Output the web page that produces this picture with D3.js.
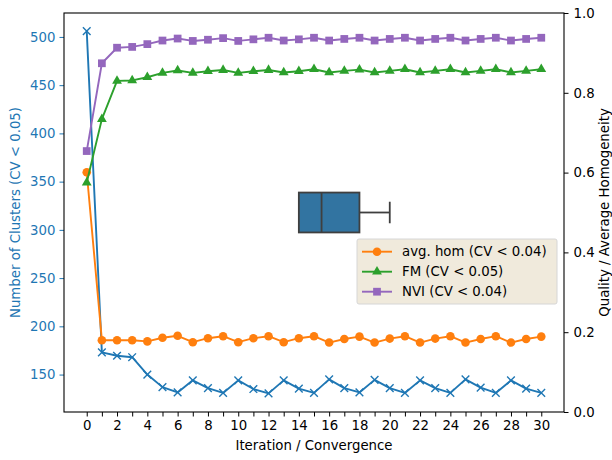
<!DOCTYPE html>
<html>
<head>
<meta charset="utf-8">
<script src="https://cdn.jsdelivr.net/npm/d3@7"></script>
<style>
  body { margin: 0; background: #fff; overflow: hidden; }
  svg { display: block; font-family: "DejaVu Sans", sans-serif; }
</style>
</head>
<body>
<div class="chart"></div>
<script>
// ---- data ----
const iterations = [0, 1, 2, 3, 4, 5, 6, 7, 8, 9, 10, 11, 12, 13, 14, 15, 16, 17, 18, 19, 20, 21, 22, 23, 24, 25, 26, 27, 28, 29, 30]
const clusters = [506, 173, 169.5, 168, 150, 137, 131.5, 144, 136, 131, 144, 135, 130.5, 144, 135.5, 131, 145, 136, 131.5, 144.5, 136, 131, 144, 136, 131, 145, 136.5, 131, 144, 135.5, 131]
const avgHom = [0.601, 0.18, 0.18, 0.18, 0.177, 0.186, 0.191, 0.175, 0.185, 0.19, 0.175, 0.185, 0.19, 0.175, 0.185, 0.19, 0.174, 0.183, 0.189, 0.174, 0.184, 0.19, 0.174, 0.184, 0.19, 0.174, 0.183, 0.19, 0.174, 0.183, 0.189]
const fm = [0.575, 0.734, 0.830, 0.831, 0.839, 0.850, 0.856, 0.850, 0.854, 0.857, 0.850, 0.854, 0.857, 0.851, 0.854, 0.859, 0.851, 0.855, 0.858, 0.851, 0.855, 0.859, 0.851, 0.855, 0.859, 0.851, 0.855, 0.859, 0.851, 0.855, 0.859]
const nvi = [0.654, 0.874, 0.913, 0.915, 0.922, 0.931, 0.936, 0.930, 0.933, 0.937, 0.930, 0.934, 0.938, 0.931, 0.934, 0.938, 0.931, 0.935, 0.938, 0.931, 0.935, 0.938, 0.931, 0.935, 0.938, 0.931, 0.935, 0.938, 0.931, 0.935, 0.938]
// convergence iteration box: whisker low, q1, median, q3, whisker high
const convergence = [14, 14, 15.5, 18, 20]
const xTickLabels = [0, 2, 4, 6, 8, 10, 12, 14, 16, 18, 20, 22, 24, 26, 28, 30]
const leftTicks = [150, 200, 250, 300, 350, 400, 450, 500]
const rightTicks = [0, 0.2, 0.4, 0.6, 0.8, 1.0]

const series = [
  {name: "avg. hom (CV < 0.04)", values: avgHom, color: "#ff7f0e", symbol: "circle"},
  {name: "FM (CV < 0.05)", values: fm, color: "#2ca02c", symbol: "triangle"},
  {name: "NVI (CV < 0.04)", values: nvi, color: "#9467bd", symbol: "square"}
]

const margin = ({top: 13, right: 48, bottom: 48, left: 64})
const width = 612 - margin.left - margin.right,
  height = 460 - margin.top - margin.bottom;

const svg = d3.select(".chart").append("svg")
  .attr("width", 612)
  .attr("height", 460)
  .append("g")
  .attr("transform", "translate(" + margin.left + "," + margin.top + ")");

const xScale = d3.scaleLinear().domain([-1.5, 31.5]).range([0, width])
const yLeft = d3.scaleLinear().domain([111.2, 524.8]).range([height, 0])
const yRight = d3.scaleLinear().domain([0, 1]).range([height, 0])

const fontSize = "13.3px"

// x axis: ticks every iteration, labels every other one
const xAxis = d3.axisBottom(xScale)
  .tickValues(iterations)
  .tickSize(4.5)
  .tickPadding(4)
  .tickFormat(d => xTickLabels.includes(d) ? d : "")

svg.append("g")
  .attr("class", "xAxis")
  .attr("transform", `translate(0, ${height})`)
  .call(xAxis)

const yAxisL = d3.axisLeft(yLeft).tickValues(leftTicks).tickSize(4.5).tickPadding(4)
svg.append("g").attr("class", "yAxisL").call(yAxisL)

const yAxisR = d3.axisRight(yRight).tickValues(rightTicks).tickSize(4.5).tickPadding(5)
  .tickFormat(d3.format(".1f"))
svg.append("g").attr("class", "yAxisR")
  .attr("transform", `translate(${width}, 0)`)
  .call(yAxisR)

svg.selectAll(".domain").remove()
svg.selectAll(".tick text").attr("font-size", fontSize).attr("font-family", "DejaVu Sans")
svg.selectAll(".xAxis .tick line, .yAxisR .tick line").attr("stroke", "#000")
svg.selectAll(".xAxis .tick text, .yAxisR .tick text").attr("fill", "#000")
svg.selectAll(".yAxisL .tick line").attr("stroke", "#1f77b4")
svg.selectAll(".yAxisL .tick text").attr("fill", "#1f77b4")

// blue clusters line (left axis)
const lineL = d3.line().x((d, i) => xScale(iterations[i])).y(d => yLeft(d))
svg.append("path")
  .datum(clusters)
  .attr("d", lineL)
  .attr("fill", "none")
  .attr("stroke", "#1f77b4")
  .attr("stroke-width", 1.9)
  .attr("stroke-linejoin", "round")

const xMark = d3.symbol().type(d3.symbolX).size(40)
svg.selectAll(".xmark")
  .data(clusters)
  .enter()
  .append("path")
  .attr("class", "xmark")
  .attr("d", xMark)
  .attr("transform", (d, i) => `translate(${xScale(iterations[i])},${yLeft(d)})`)
  .attr("fill", "none")
  .attr("stroke", "#1f77b4")
  .attr("stroke-width", 1.4)

// box of convergence iterations
const boxTop = yRight(0.55), boxBot = yRight(0.45), boxMid = yRight(0.5)
svg.append("line")
  .attr("x1", xScale(convergence[3])).attr("x2", xScale(convergence[4]))
  .attr("y1", boxMid).attr("y2", boxMid)
  .attr("stroke", "#3f3f3f").attr("stroke-width", 1.8)
svg.append("line")
  .attr("x1", xScale(convergence[4])).attr("x2", xScale(convergence[4]))
  .attr("y1", yRight(0.527)).attr("y2", yRight(0.473))
  .attr("stroke", "#3f3f3f").attr("stroke-width", 1.8)
svg.append("line")
  .attr("x1", xScale(convergence[0])).attr("x2", xScale(convergence[1]))
  .attr("y1", boxMid).attr("y2", boxMid)
  .attr("stroke", "#3f3f3f").attr("stroke-width", 1.8)
svg.append("rect")
  .attr("x", xScale(convergence[1]))
  .attr("y", boxTop)
  .attr("width", xScale(convergence[3]) - xScale(convergence[1]))
  .attr("height", boxBot - boxTop)
  .attr("fill", "#3274a1")
  .attr("stroke", "#3f3f3f")
  .attr("stroke-width", 1.8)
svg.append("line")
  .attr("x1", xScale(convergence[2])).attr("x2", xScale(convergence[2]))
  .attr("y1", boxTop).attr("y2", boxBot)
  .attr("stroke", "#3f3f3f").attr("stroke-width", 1.8)

// right axis series
const symbolOf = {circle: d3.symbolCircle, triangle: d3.symbolTriangle, square: d3.symbolSquare}
const symbolSize = {circle: 58, triangle: 42, square: 60}
const lineR = d3.line().x((d, i) => xScale(iterations[i])).y(d => yRight(d))

series.forEach(s => {
  const g = svg.append("g")
  g.append("path")
    .datum(s.values)
    .attr("d", lineR)
    .attr("fill", "none")
    .attr("stroke", s.color)
    .attr("stroke-width", 1.9)
    .attr("stroke-linejoin", "round")
  g.selectAll(".mark")
    .data(s.values)
    .enter()
    .append("path")
    .attr("class", "mark")
    .attr("d", d3.symbol().type(symbolOf[s.symbol]).size(symbolSize[s.symbol]))
    .attr("transform", (d, i) => `translate(${xScale(iterations[i])},${yRight(d)})`)
    .attr("fill", s.color)
})

// frame
svg.append("rect")
  .attr("width", width)
  .attr("height", height)
  .attr("fill", "none")
  .attr("stroke", "#000")
  .attr("stroke-width", 1.1)

// legend
const legend = svg.append("g").attr("transform", `translate(${293}, ${226})`)
legend.append("rect")
  .attr("width", 200)
  .attr("height", 65)
  .attr("rx", 2)
  .attr("fill", "#f0eadc")
  .attr("stroke", "#d6d6d6")
  .attr("stroke-width", 1)

series.forEach((s, i) => {
  const y = 12.7 + i * 20
  legend.append("line")
    .attr("x1", 5).attr("x2", 35)
    .attr("y1", y).attr("y2", y)
    .attr("stroke", s.color)
    .attr("stroke-width", 1.9)
  legend.append("path")
    .attr("d", d3.symbol().type(symbolOf[s.symbol]).size(symbolSize[s.symbol]))
    .attr("transform", `translate(20,${y})`)
    .attr("fill", s.color)
  legend.append("text")
    .attr("x", 45)
    .attr("y", y)
    .attr("dy", "0.35em")
    .attr("font-size", fontSize)
    .attr("fill", "#000")
    .text(s.name)
})

// axis labels
svg.append("text")
  .attr("x", width / 2)
  .attr("y", height + 38)
  .attr("text-anchor", "middle")
  .attr("font-size", fontSize)
  .attr("fill", "#000")
  .text("Iteration / Convergence")

svg.append("text")
  .attr("transform", `translate(${-44}, ${height / 2}) rotate(-90)`)
  .attr("text-anchor", "middle")
  .attr("font-size", fontSize)
  .attr("fill", "#1f77b4")
  .text("Number of Clusters (CV < 0.05)")

// right label kept just inside the page edge
svg.append("text")
  .attr("transform", `translate(${width + 45}, ${height / 2}) rotate(-90)`)
  .attr("text-anchor", "middle")
  .attr("font-size", fontSize)
  .attr("fill", "#000")
  .text("Quality / Average Homogeneity")
</script>
</body>
</html>
